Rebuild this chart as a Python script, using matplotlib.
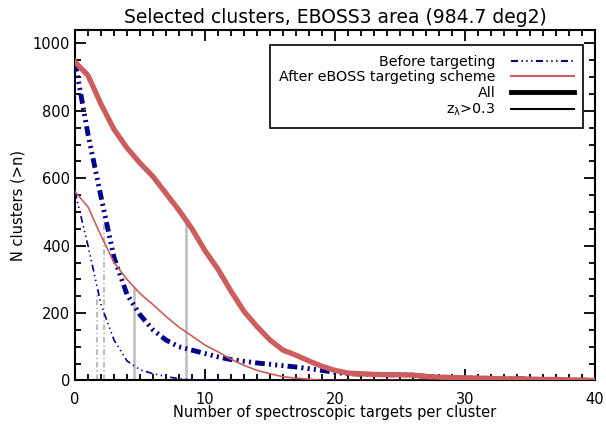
import numpy as np
import matplotlib
matplotlib.use("Agg")
import matplotlib.pyplot as plt
from matplotlib.ticker import MultipleLocator
from matplotlib.lines import Line2D

plt.rcParams['font.family'] = ['DejaVu Sans']
plt.rcParams['lines.scale_dashes'] = False

# number of spectroscopic targets per cluster
n = np.arange(0, 41)

# All clusters, before targeting
all_before = [945, 730, 545, 365, 255, 195, 150, 120, 100, 90,
              80, 70, 62, 57, 52, 48, 44, 40, 35, 30,
              24, 20, 19, 18, 17, 17, 16, 12, 10, 9,
              8, 7, 6, 5, 5, 4, 3, 3, 2, 1, 0]
# All clusters, after eBOSS targeting scheme
all_after = [945, 905, 820, 745, 690, 645, 605, 555, 505, 450,
             385, 330, 265, 205, 160, 120, 90, 75, 58, 42,
             30, 22, 20, 18, 17, 17, 16, 12, 10, 9,
             8, 7, 6, 5, 5, 4, 3, 3, 2, 1, 0]
# z_lambda > 0.3, before targeting
z03_before = [560, 400, 225, 120, 58, 32, 20, 12, 5, 2,
              1, 1, 0, 0, 0, 0, 0, 0, 0, 0,
              0, 0, 0, 0, 0, 0, 0, 0, 0, 0,
              0, 0, 0, 0, 0, 0, 0, 0, 0, 0, 0]
# z_lambda > 0.3, after targeting
z03_after = [560, 515, 430, 350, 300, 258, 225, 190, 158, 132,
             105, 85, 63, 45, 30, 20, 11, 7, 4, 0,
             0, 0, 0, 0, 0, 0, 0, 0, 0, 0,
             0, 0, 0, 0, 0, 0, 0, 0, 0, 0, 0]

# median markers (x position, height)
med_before_x = [1.67, 2.26]
med_before_y = [260, 472]
med_after_x = [4.56, 8.57]
med_after_y = [275, 470]

navy = '#00008B'
red = '#CD5C5C'
gray = '#BDBDBD'

fig = plt.figure(figsize=(6.06, 4.28), dpi=100)
ax = fig.add_axes([0.1238, 0.111, 0.858, 0.819])

# median lines
for x, y in zip(med_before_x, med_before_y):
    ax.plot([x, x], [0, y], color=gray, lw=1.5, dashes=[4, 2, 1, 2], zorder=1)
for x, y in zip(med_after_x, med_after_y):
    ax.plot([x, x], [0, y], color=gray, lw=1.8, zorder=1)

dash_thick = [7, 3, 1.5, 3, 1.5, 3, 1.5, 3]
dash_thin = [5, 2.5, 1, 2.5, 1, 2.5, 1, 2.5]

ax.plot(n, all_before, color=navy, lw=3.5, dashes=dash_thick, zorder=3)
ax.plot(n, all_after, color=red, lw=3.8, zorder=4)
ax.plot(n, z03_before, color=navy, lw=1.2, dashes=dash_thin, zorder=3)
ax.plot(n, z03_after, color=red, lw=1.2, zorder=4)

ax.set_xlim(0, 40)
ax.set_ylim(0, 1040)
ax.xaxis.set_major_locator(MultipleLocator(10))
ax.xaxis.set_minor_locator(MultipleLocator(1))
ax.yaxis.set_major_locator(MultipleLocator(200))
ax.yaxis.set_minor_locator(MultipleLocator(50))
ax.tick_params(which='both', direction='in', top=True, right=True, labelsize=10.5, width=1.3)
ax.tick_params(which='major', length=8)
ax.tick_params(which='minor', length=4)
ax.tick_params(axis='x', pad=8)
for s in ax.spines.values():
    s.set_linewidth(1.5)

ax.set_xlabel('Number of spectroscopic targets per cluster', fontsize=10.5, labelpad=-1)
ax.set_ylabel('N clusters (>n)', fontsize=10.5, labelpad=5)
ax.set_title('Selected clusters, EBOSS3 area (984.7 deg2)', fontsize=13.5, pad=5)

handles = [
    Line2D([], [], color=navy, lw=1.5, dashes=dash_thin),
    Line2D([], [], color=red, lw=1.5),
    Line2D([], [], color='black', lw=3.5),
    Line2D([], [], color='black', lw=1.5),
]
labels = ['Before targeting', 'After eBOSS targeting scheme', 'All', r'$\mathregular{z_\lambda}$>0.3']
leg = ax.legend(handles, labels, loc='upper right', bbox_to_anchor=(0.977, 0.956),
                borderaxespad=0, markerfirst=False, fontsize=10.3, handlelength=4.4,
                fancybox=False, framealpha=1, edgecolor='black', labelspacing=0.12,
                handletextpad=1.05, borderpad=0.65)
leg.get_frame().set_linewidth(1.2)

fig.savefig('out.png', dpi=100)
